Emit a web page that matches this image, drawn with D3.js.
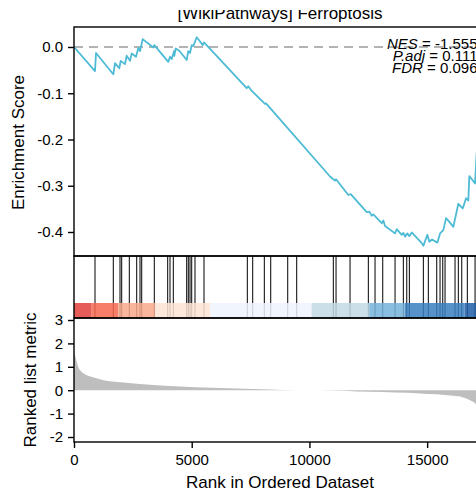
<!DOCTYPE html>
<html><head><meta charset="utf-8">
<script src="https://cdn.jsdelivr.net/npm/d3@7"></script>
<style>
body{margin:0;background:#fff}
svg{display:block}
text{font-family:Arial,"Liberation Sans",sans-serif;fill:#000}
</style>
</head><body>
<svg id="c" width="476" height="493"></svg>
<script>
// ---------------- data ----------------
const titleText = "[WikiPathways] Ferroptosis";
const statLabels = ["NES", "P.adj", "FDR"];
const statValues = ["-1.555", "0.111", "0.096"];

const rankMax = 17500;
const rankTicks = [0, 5000, 10000, 15000];
const esTicks = [0, -0.1, -0.2, -0.3, -0.4];
const metricTicks = [3, 2, 1, 0, -1, -2];

// running enrichment score (vertices of the step line)
const esRank = [0, 892, 935, 1669, 1742, 1924, 1984, 2166, 2239, 2379, 2451, 2634, 2732, 2804, 2918,
  3369, 3411, 4006, 4078, 4150, 4248, 4261, 4320, 4473, 4787, 4855, 4928, 5000, 5068, 5212, 5323, 5467, 5522,
  7336, 7404, 7549, 8114, 8156, 8398, 10875, 11087, 11130, 11652, 11754, 12434, 12544, 12646, 12714,
  13071, 13139, 13211, 13636, 13708, 13920, 13989, 14061, 14159, 14244, 14346, 14771, 14839, 15009, 15093,
  15208, 15433, 15548, 15688, 15803, 15943, 16113, 16325, 16512, 16652, 16750, 16792, 17035, 17099, 17500];
const esValue = [0, -0.052, -0.013, -0.059, -0.035, -0.046, -0.030, -0.037, -0.019, -0.030, -0.014, -0.021, -0.002, -0.009, 0.017,
  -0.001, 0.004, -0.032, -0.021, -0.026, -0.009, -0.019, -0.003, -0.008, -0.028, -0.009, -0.013, 0.004, 0.002, 0.021, 0.014, 0.004, 0.010,
  -0.089, -0.085, -0.095, -0.123, -0.122, -0.136, -0.280, -0.289, -0.286, -0.320, -0.318, -0.357, -0.356, -0.365, -0.362,
  -0.381, -0.375, -0.387, -0.403, -0.394, -0.406, -0.402, -0.410, -0.403, -0.409, -0.401, -0.424, -0.430, -0.406, -0.421,
  -0.416, -0.423, -0.403, -0.396, -0.370, -0.378, -0.389, -0.339, -0.349, -0.327, -0.332, -0.279, -0.295, -0.234, 0];

// gene-set hit positions
const hitRank = [892, 1669, 1954, 2026, 2349, 2664, 2804, 2876, 3411, 3980, 4078, 4218, 4787, 4855, 4928, 5000,
  5140, 5522, 7362, 7591, 8084, 8356, 9078, 9460, 11015, 11130, 11725, 12502, 12787, 13114, 13637, 13989,
  14134, 14244, 14839, 15051, 15408, 15548, 15663, 15760, 16185, 16325, 16470, 16707, 17035];

// ranked list metric
const metricRank = [0, 40, 180, 400, 800, 1250, 2000, 2660, 4080, 6200, 8330, 9460, 10370, 12570, 14700, 16100, 16500, 16820, 17080, 17300, 17500];
const metricValue = [1.65, 1.5, 1.0, 0.72, 0.55, 0.43, 0.34, 0.28, 0.18, 0.09, 0.03, 0.0, 0.0, -0.07, -0.14, -0.24, -0.30, -0.43, -0.6, -0.9, -1.5];

// colour strip bins (rank breaks)
const stripBreaks = [0, 748, 1880, 3440, 5780, 10090, 12540, 14050, 16590, 17500];
const stripColors = ["#e2403b", "#f6694f", "#f9a98c", "#fde3d5", "#eef3fd", "#c2d9e5", "#74b3da", "#3a80bf", "#1e5ea6"];

// ---------------- layout ----------------
const L = 74, R = 486;
const p1 = {top: 27, bottom: 256};
const p2 = {top: 256, bottom: 318, strip: 303};
const p3 = {top: 318, bottom: 442};
const tickFont = 15, titleFont = 17;

const svg = d3.select("#c");
const x = d3.scaleLinear().domain([0, rankMax]).range([L, R]);
const yES = d3.scaleLinear().domain([0, -0.4]).range([47, 232]);
const yM = d3.scaleLinear().domain([3, -2]).range([320, 437]);

// title, clipped like the reference
svg.append("clipPath").attr("id", "tclip").append("rect").attr("x", 0).attr("y", 10).attr("width", 476).attr("height", 20);
svg.append("text").attr("x", (L + R) / 2).attr("y", 19).attr("text-anchor", "middle")
  .attr("font-size", titleFont).attr("clip-path", "url(#tclip)").text(titleText);

// metric area
const mData = metricRank.map((r, i) => ({r, v: metricValue[i]}));
svg.append("path").datum(mData)
  .attr("fill", "#bebebe")
  .attr("d", d3.area().x(d => x(d.r)).y0(yM(0)).y1(d => yM(d.v)).curve(d3.curveMonotoneX));

// dashed zero line
svg.append("line").attr("x1", L).attr("x2", R).attr("y1", yES(0)).attr("y2", yES(0))
  .attr("stroke", "#9a9a9a").attr("stroke-width", 1.5).attr("stroke-dasharray", "9,6");

// ES line
const esData = esRank.map((r, i) => ({r, v: esValue[i]}));
svg.append("path").datum(esData)
  .attr("fill", "none").attr("stroke", "#4dbbd5").attr("stroke-width", 1.8).attr("stroke-linejoin", "round")
  .attr("d", d3.line().x(d => x(d.r)).y(d => yES(d.v)));

// stats text
const st = svg.append("g").attr("font-size", 15);
statLabels.forEach((lab, i) => {
  const t = st.append("text").attr("x", 477.5).attr("y", 48.5 + i * 12.3).attr("text-anchor", "end");
  t.append("tspan").attr("font-style", "italic").text(lab);
  t.append("tspan").text(" = " + statValues[i]);
});

// hits
svg.append("g").selectAll("line").data(hitRank).join("line")
  .attr("x1", d => x(d)).attr("x2", d => x(d)).attr("y1", p2.top).attr("y2", p2.bottom)
  .attr("stroke", "#000").attr("stroke-width", 1);

// colour strip
const bins = stripColors.map((c, i) => ({a: stripBreaks[i], b: stripBreaks[i + 1], c}));
svg.append("g").selectAll("rect").data(bins).join("rect")
  .attr("x", d => x(d.a)).attr("width", d => x(d.b) - x(d.a))
  .attr("y", p2.strip).attr("height", p2.bottom - p2.strip)
  .attr("fill", d => d.c).attr("opacity", 0.85);

// frames
[p1, p2, p3].forEach(p => {
  svg.append("rect").attr("x", L).attr("y", p.top).attr("width", R - L).attr("height", p.bottom - p.top)
    .attr("fill", "none").attr("stroke", "#000").attr("stroke-width", 1.4);
});

// axes
function styleAxis(g) {
  g.select(".domain").remove();
  g.selectAll(".tick line").attr("stroke", "#000").attr("stroke-width", 1.4);
  g.selectAll(".tick text").attr("font-size", tickFont).attr("fill", "#000")
    .attr("font-family", 'Arial,"Liberation Sans",sans-serif');
}
svg.append("g").attr("transform", `translate(${L},0)`)
  .call(d3.axisLeft(yES).tickValues(esTicks).tickFormat(d => d.toFixed(1)).tickSize(6).tickPadding(5))
  .call(styleAxis);
svg.append("g").attr("transform", `translate(${L},0)`)
  .call(d3.axisLeft(yM).tickValues(metricTicks).tickFormat(d => String(d)).tickSize(6).tickPadding(5))
  .call(styleAxis);
svg.append("g").attr("transform", `translate(0,${p3.bottom})`)
  .call(d3.axisBottom(x).tickValues(rankTicks).tickFormat(d => String(d)).tickSize(6).tickPadding(6))
  .call(styleAxis);

// axis titles
svg.append("text").attr("transform", `translate(24,${(p1.top + p1.bottom) / 2 + 1}) rotate(-90)`)
  .attr("text-anchor", "middle").attr("font-size", titleFont).text("Enrichment Score");
svg.append("text").attr("transform", `translate(36,${(p3.top + p3.bottom) / 2 + 0}) rotate(-90)`)
  .attr("text-anchor", "middle").attr("font-size", titleFont).text("Ranked list metric");
svg.append("text").attr("x", (L + R) / 2).attr("y", 488).attr("text-anchor", "middle")
  .attr("font-size", titleFont).text("Rank in Ordered Dataset");
</script>
</body></html>
